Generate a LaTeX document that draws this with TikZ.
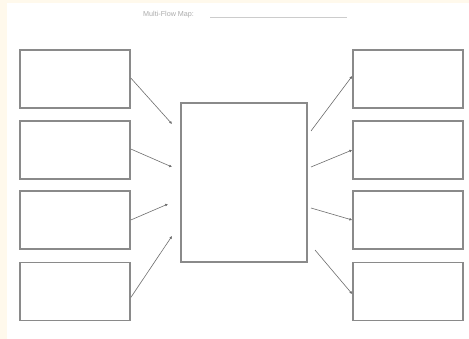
\documentclass[tikz,border=0pt]{standalone}
\usepackage{fontspec}
\setmainfont{Liberation Sans}
\usetikzlibrary{arrows.meta}
\definecolor{paper}{HTML}{FFF9EC}
\definecolor{edge}{HTML}{8A8A8A}
\begin{document}
\begin{tikzpicture}[
        x=1pt, y=-1pt,
        box/.style={rectangle, draw=edge, line width=1.6pt, fill=white, inner sep=0pt},
        arrow/.style={-{Latex[length=2.8pt, width=2.8pt, fill=black!80]}, draw=edge!80!black, line width=0.6pt}
    ]
        % Page
        \fill[paper] (0,0) rectangle (469,339);
        \fill[white] (7,3) rectangle (469,339);
        \useasboundingbox (0,0) rectangle (469,339);

        % Title
        \node[font=\fontsize{7.2}{8}\selectfont, text=gray!65, anchor=west, inner sep=0pt] (title) at (143,15) {Multi-Flow Map:};
        \coordinate (lineend) at (347,17);
        \draw[gray!40, line width=0.5pt] (210,17) -- (lineend);

        % Center box
        \node[box, line width=1.3pt, minimum width=126pt, minimum height=159pt] (event) at (244,182.5) {};

        % Left column: causes
        \node[box, minimum width=110pt, minimum height=58pt] (cause1) at (75,79) {};
        \node[box, minimum width=110pt, minimum height=58pt] (cause2) at (75,150) {};
        \node[box, minimum width=110pt, minimum height=58pt] (cause3) at (75,220) {};
        \node[box, minimum width=110pt, minimum height=58pt] (cause4) at (75,291.5) {};

        % Right column: effects
        \node[box, minimum width=110pt, minimum height=58pt] (effect1) at (408,79) {};
        \node[box, minimum width=110pt, minimum height=58pt] (effect2) at (408,150) {};
        \node[box, minimum width=110pt, minimum height=58pt] (effect3) at (408,220) {};
        \node[box, minimum width=110pt, minimum height=58pt] (effect4) at (408,291.5) {};

        % Arrow ends near the center box
        \coordinate (in1) at (172,124);
        \coordinate (in2) at (172,167);
        \coordinate (in3) at (168,204);
        \coordinate (in4) at (172,236);
        \coordinate (out1) at (311,131);
        \coordinate (out2) at (311,167);
        \coordinate (out3) at (311,208);
        \coordinate (out4) at (315,250);

        % Left arrows
        \draw[arrow] ([yshift=1pt]cause1.east) -- (in1);
        \draw[arrow] ([yshift=1pt]cause2.east) -- (in2);
        \draw[arrow] (cause3.east) -- (in3);
        \draw[arrow] ([yshift=-6pt]cause4.east) -- (in4);

        % Right arrows
        \draw[arrow] (out1) -- ([yshift=3pt]effect1.west);
        \draw[arrow] (out2) -- (effect2.west);
        \draw[arrow] (out3) -- (effect3.west);
        \draw[arrow] (out4) -- ([yshift=-2.5pt]effect4.west);

    \end{tikzpicture}
\end{document}
